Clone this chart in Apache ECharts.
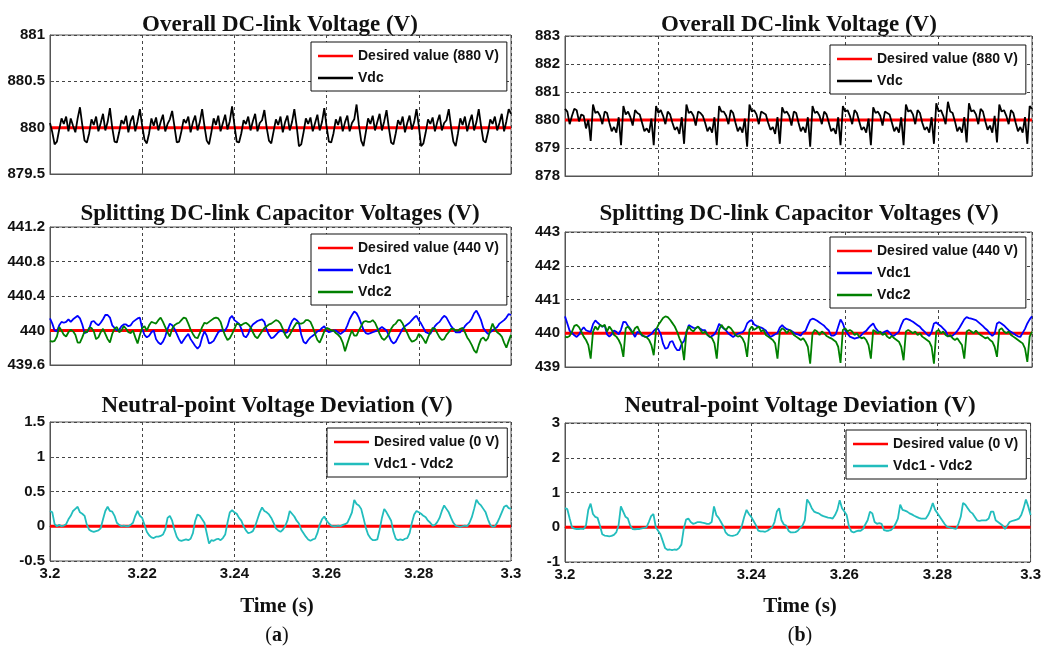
<!DOCTYPE html>
<html><head><meta charset="utf-8">
<script src="https://cdn.jsdelivr.net/npm/echarts/dist/echarts.min.js"></script>
<style>html,body{margin:0;padding:0;background:#fff}#c{width:1044px;height:650px}</style>
</head><body><div id="c"></div>
<script>
// ---------- data ----------
const T_START = 3.2, T_END = 3.3, T_STEP = 0.0005;
const xTickInterval = 0.02;

const desiredVdc = 880, desiredVdcHalf = 440, desiredDev = 0;

// (a) overall DC-link voltage
const vdcA = [880.05, 879.95, 879.82, 879.85, 879.98, 880.10, 880.04, 880.12, 879.96, 880.10, 880.02, 879.95, 880.10,
 880.22, 880.03, 879.86, 879.84, 879.94, 880.09, 880.03, 880.12, 879.96, 880.05, 880.15, 879.97, 880.06,
 880.21, 880.00, 879.85, 879.84, 879.95, 880.08, 880.04, 880.13, 879.95, 880.07, 880.13, 879.96, 880.07,
 880.20, 880.02, 879.87, 879.83, 879.94, 880.10, 880.02, 880.11, 879.97, 880.06, 880.14, 879.96, 880.04, 880.09,
 880.18, 880.01, 879.84, 879.85, 879.96, 880.09, 880.05, 880.12, 879.95, 880.06, 880.13, 879.97, 880.06,
 880.20, 880.02, 879.86, 879.82, 879.95, 880.10, 880.03, 880.13, 879.96, 880.05, 880.14, 879.98, 880.07,
 880.23, 880.03, 879.85, 879.84, 879.94, 880.08, 880.04, 880.12, 879.97, 880.07, 880.15, 879.96, 880.05, 880.08,
 880.19, 880.00, 879.86, 879.83, 879.96, 880.09, 880.03, 880.12, 879.95, 880.06, 880.13, 879.97, 880.06,
 880.20, 880.02, 879.80, 879.82, 879.95, 880.10, 880.04, 880.11, 879.96, 880.05, 880.14, 879.97, 880.06,
 880.21, 880.01, 879.85, 879.84, 879.94, 880.09, 880.03, 880.12, 879.96, 880.06, 880.13, 879.96, 880.05, 880.09,
 880.25, 880.03, 879.86, 879.80, 879.95, 880.10, 880.04, 880.13, 879.97, 880.06, 880.15, 879.97, 880.07,
 880.19, 880.00, 879.84, 879.82, 879.94, 880.08, 880.03, 880.12, 879.95, 880.05, 880.13, 879.98, 880.06,
 880.20, 880.02, 879.80, 879.83, 879.95, 880.09, 880.04, 880.11, 879.96, 880.06, 880.14, 879.97, 880.05, 880.08,
 880.20, 880.01, 879.85, 879.80, 879.94, 880.10, 880.03, 880.12, 879.96, 880.06, 880.14, 879.97, 880.06,
 880.20, 880.02, 879.86, 879.84, 879.95, 880.09, 880.04, 880.12, 879.97, 880.05, 880.15, 879.96, 880.07,
 880.20, 880.15];

// (b) overall DC-link voltage
const vdcB = [880.40, 880.30, 879.85, 880.15, 880.40, 880.35, 879.95, 880.20, 880.15, 879.70, 880.00,
 879.25, 880.55, 880.25, 880.30, 880.15, 879.85, 880.30, 880.25, 879.90, 879.60, 879.75, 879.55, 880.10,
 879.10, 880.50, 880.20, 880.30, 880.10, 879.80, 880.35, 880.25, 880.20, 879.90, 879.60, 879.70, 879.55, 880.05,
 879.10, 880.50, 880.25, 880.35, 880.15, 879.85, 880.30, 880.20, 879.90, 879.65, 879.75, 879.50, 880.10,
 879.15, 880.55, 880.25, 880.30, 880.15, 879.80, 880.30, 880.25, 880.15, 879.90, 879.60, 879.75, 879.55, 880.10,
 879.10, 880.50, 880.30, 880.30, 880.15, 879.85, 880.35, 880.25, 879.90, 879.60, 879.75, 879.55, 880.05,
 879.05, 880.55, 880.30, 880.35, 880.20, 879.85, 880.30, 880.25, 880.20, 879.90, 879.65, 879.75, 879.50, 880.10,
 879.15, 880.45, 880.25, 880.30, 880.15, 879.80, 880.30, 880.25, 879.90, 879.60, 879.75, 879.55, 880.10,
 879.05, 880.50, 880.25, 880.30, 880.15, 879.85, 880.30, 880.20, 879.90, 879.60, 879.70, 879.50, 880.10,
 879.10, 880.50, 880.30, 880.35, 880.15, 879.85, 880.35, 880.25, 879.95, 879.65, 879.75, 879.55, 880.05,
 879.10, 880.45, 880.25, 880.30, 880.15, 879.80, 880.30, 880.25, 880.20, 879.90, 879.60, 879.75, 879.55, 880.10,
 879.10, 880.55, 880.30, 880.35, 880.20, 879.85, 880.35, 880.25, 879.90, 879.65, 879.75, 879.55, 880.10,
 879.15, 880.60, 880.30, 880.35, 880.15, 879.85, 880.65, 880.30, 880.25, 879.95, 879.60, 879.75, 879.55, 880.10,
 879.20, 880.60, 880.30, 880.35, 880.20, 879.85, 880.40, 880.30, 879.95, 879.65, 879.80, 879.55, 880.15,
 879.20, 880.55, 880.30, 880.35, 880.15, 879.85, 880.35, 880.25, 879.90, 879.60, 879.75, 879.55, 880.10,
 879.15, 880.50, 880.40];

// (a) capacitor voltages
const vdc1A = [440.14, 440.08, 440.00, 439.99, 440.06, 440.10, 440.09, 440.10, 440.13, 440.10,
 440.13, 440.15, 440.17, 440.14, 440.07, 439.97, 439.98, 440.02, 440.10, 440.11,
 440.08, 440.06, 440.09, 440.13, 440.18, 440.18, 440.15, 440.06, 440.03, 440.00,
 440.01, 440.05, 440.07, 440.07, 440.05, 440.06, 440.10, 440.12, 440.14, 440.15,
 440.02, 439.95, 439.92, 439.94, 439.98, 440.00, 439.90, 439.86, 439.84, 439.87,
 439.93, 440.02, 440.08, 440.06, 440.02, 439.96, 439.90, 439.85, 439.89, 439.93,
 439.96, 439.90, 439.86, 439.82, 439.79, 439.82, 439.92, 439.99, 439.94, 439.85,
 439.86, 439.88, 439.93, 439.98, 440.00, 440.00, 440.00, 440.05, 440.14, 440.17,
 440.12, 440.10, 440.08, 440.02, 439.94, 439.92, 439.96, 440.03, 440.07, 440.09,
 440.11, 440.12, 440.13, 440.10, 440.01, 439.95, 439.91, 439.92, 439.95, 439.98,
 440.00, 439.99, 439.97, 439.98, 440.05, 440.11, 440.14, 440.12, 440.09, 439.95,
 439.87, 439.85, 439.89, 439.92, 439.94, 439.96, 439.99, 440.00, 440.03, 440.05,
 440.00, 439.98, 439.99, 440.00, 440.00, 439.98, 439.96, 439.98, 440.00, 440.06,
 440.13, 440.18, 440.22, 440.20, 440.15, 440.08, 440.01, 439.97, 439.96, 439.97,
 439.98, 439.99, 440.00, 440.02, 440.04, 440.02, 440.00, 439.94, 439.88, 439.85,
 439.87, 439.92, 439.97, 440.02, 440.05, 440.07, 440.09, 440.12, 440.15, 440.17,
 440.12, 440.08, 440.03, 439.98, 439.97, 439.96, 440.01, 440.05, 440.08, 440.10,
 440.14, 440.17, 440.15, 440.10, 440.05, 440.02, 439.98, 439.98, 439.98, 440.01,
 440.05, 440.08, 440.10, 440.14, 440.20, 440.23, 440.18, 440.12, 440.03, 439.99,
 439.96, 439.98, 440.00, 440.02, 440.04, 440.08, 440.10, 440.12, 440.15, 440.19,
 440.18];
const vdc2A = [439.88, 439.87, 439.88, 439.93, 440.04, 440.00, 439.95, 439.93, 439.98, 440.01,
 439.99, 439.95, 439.86, 439.86, 439.92, 439.99, 439.98, 440.03, 440.03, 439.99,
 439.90, 439.92, 439.98, 440.02, 439.96, 439.90, 439.86, 439.96, 440.02, 440.04,
 439.98, 440.00, 440.05, 440.02, 439.98, 439.97, 440.00, 439.92, 439.85, 439.95,
 440.03, 440.05, 440.00, 440.06, 440.10, 440.09, 440.08, 440.12, 440.15, 440.10,
 440.04, 439.98, 439.93, 440.02, 440.06, 440.08, 440.09, 440.12, 440.15, 440.14,
 440.08, 440.01, 439.96, 439.92, 439.91, 439.97, 440.04, 440.09, 440.08, 440.10,
 440.12, 440.14, 440.15, 440.14, 440.10, 440.01, 439.94, 439.89, 439.91, 439.96,
 440.02, 440.08, 440.07, 440.06, 440.08, 440.09, 440.07, 440.04, 439.98, 439.93,
 439.91, 439.95, 439.99, 440.03, 440.05, 440.07, 440.08, 440.10, 440.12, 440.11,
 440.08, 440.02, 439.95, 439.91, 439.95, 440.00, 440.05, 440.09, 440.08, 440.08,
 440.09, 440.12, 440.12, 440.10, 440.04, 439.96, 439.89, 439.86, 439.92, 439.99,
 440.03, 440.02, 440.00, 440.00, 439.97, 439.95, 439.92, 439.86, 439.76, 439.85,
 439.93, 440.00, 439.94, 439.94, 440.00, 440.05, 440.10, 440.11, 440.10, 440.10,
 440.12, 440.09, 440.03, 439.96, 439.91, 439.89, 439.92, 439.96, 440.02, 440.06,
 440.08, 440.12, 440.12, 440.08, 440.02, 439.97, 439.91, 439.87, 439.88, 439.90,
 439.96, 439.94, 439.90, 439.85, 439.92, 439.98, 440.03, 440.02, 439.97, 439.92,
 439.89, 439.90, 439.95, 439.98, 440.02, 440.02, 440.00, 440.00, 440.02, 440.03,
 439.98, 439.92, 439.88, 439.83, 439.77, 439.74, 439.83, 439.90, 439.92, 439.88,
 439.91, 440.00, 440.08, 440.02, 439.98, 439.96, 439.93, 439.86, 439.80, 439.88,
 439.95];

// (b) capacitor voltages
const vdc1B = [440.50, 440.29, 440.07, 440.01, 439.94, 439.89, 439.96, 440.09, 440.18, 440.09,
 440.06, 440.04, 440.27, 440.38, 440.31, 440.25, 440.19, 440.23, 439.97, 439.90,
 439.97, 440.08, 440.04, 439.97, 440.11, 440.34, 440.33, 440.21, 440.13, 440.01,
 439.89, 440.04, 440.01, 439.93, 439.91, 439.89, 439.93, 439.98, 440.07, 440.14,
 440.11, 439.97, 439.69, 439.54, 439.57, 439.74, 439.77, 439.61, 439.50, 439.50,
 439.69, 439.77, 440.01, 440.24, 440.20, 440.16, 440.15, 440.19, 440.13, 440.09,
 440.09, 439.95, 439.89, 439.92, 439.97, 440.09, 440.28, 440.20, 440.14, 440.08,
 439.99, 439.94, 439.89, 439.94, 439.99, 440.01, 440.03, 440.11, 440.29, 440.36,
 440.39, 440.26, 440.22, 440.19, 440.17, 440.13, 440.08, 439.97, 439.89, 439.93,
 439.97, 440.01, 440.17, 440.24, 440.17, 440.12, 440.10, 440.07, 440.02, 439.98,
 439.96, 439.93, 440.03, 440.07, 440.24, 440.39, 440.43, 440.41, 440.37, 440.32,
 440.27, 440.22, 440.14, 440.08, 439.93, 439.93, 439.97, 440.19, 440.41, 440.29,
 440.09, 439.99, 439.90, 439.87, 439.84, 439.86, 439.88, 439.95, 440.03, 440.07,
 440.16, 440.23, 440.29, 440.15, 440.07, 440.02, 440.01, 440.05, 440.08, 440.02,
 439.93, 439.93, 439.99, 440.05, 440.24, 440.39, 440.43, 440.41, 440.38, 440.34,
 440.29, 440.24, 440.19, 440.11, 440.05, 439.97, 439.92, 440.04, 440.29, 440.32,
 440.26, 440.21, 440.14, 440.07, 439.92, 439.91, 439.93, 439.99, 440.07, 440.17,
 440.29, 440.41, 440.48, 440.45, 440.43, 440.41, 440.39, 440.33, 440.27, 440.21,
 440.14, 440.08, 439.99, 439.92, 439.99, 440.29, 440.33, 440.28, 440.23, 440.16,
 440.09, 440.04, 440.00, 439.95, 439.91, 439.89, 440.01, 440.13, 440.29, 440.41,
 440.50];
const vdc2B = [439.90, 439.88, 439.92, 440.05, 440.22, 440.25, 440.18, 440.05, 439.90, 439.80, 439.65,
 439.25, 440.05, 440.20, 440.10, 440.25, 440.20, 440.25, 440.05, 440.20, 440.10, 439.95, 439.90, 439.80, 439.65,
 439.30, 440.15, 440.20, 440.10, 440.00, 440.15, 440.20, 440.05, 439.95, 439.90, 439.88, 439.80, 439.65,
 439.35, 440.10, 440.25, 440.35, 440.45, 440.50, 440.48, 440.40, 440.30, 440.20, 440.05, 439.85, 439.70,
 439.20, 440.05, 440.20, 440.10, 440.05, 440.15, 440.20, 440.10, 440.00, 440.05, 439.95, 439.90, 439.85, 439.70,
 439.25, 440.10, 440.25, 440.15, 440.10, 440.20, 440.15, 440.05, 439.95, 439.90, 439.92, 439.85, 439.70,
 439.30, 440.10, 440.20, 440.10, 440.15, 440.20, 440.05, 440.10, 439.95, 439.90, 439.85, 439.80, 439.70,
 439.25, 440.05, 440.15, 440.10, 440.00, 440.10, 440.05, 439.95, 439.90, 439.85, 439.80, 439.85, 439.75, 439.60,
 439.10, 440.00, 440.10, 440.05, 439.95, 440.05, 440.00, 439.92, 439.88, 439.85, 439.80, 439.75, 439.60,
 439.12, 440.10, 440.15, 440.05, 440.10, 440.05, 439.95, 440.00, 439.90, 439.85, 439.88, 439.80, 439.65,
 439.25, 440.10, 440.05, 440.00, 440.05, 439.95, 440.00, 439.90, 439.85, 439.92, 439.85, 439.80, 439.75, 439.60,
 439.20, 440.05, 440.10, 440.05, 440.00, 440.05, 439.95, 440.00, 439.90, 439.85, 439.80, 439.75, 439.60,
 439.10, 440.05, 440.10, 440.00, 440.05, 439.95, 439.90, 439.95, 439.85, 439.80, 439.85, 439.75, 439.65,
 439.25, 440.05, 440.10, 440.05, 440.00, 440.08, 440.00, 439.95, 439.90, 439.85, 439.88, 439.80, 439.75, 439.60,
 439.30, 440.10, 440.15, 440.05, 440.00, 440.05, 439.95, 439.90, 439.85, 439.80, 439.75, 439.70, 439.55,
 439.15, 439.90, 440.05];

// (a) neutral-point deviation
const devA = [0.22, 0.20, 0.03, 0.00, 0.02, 0.00, 0.01, 0.03, 0.10, 0.15,
 0.22, 0.25, 0.28, 0.20, 0.18, 0.15, 0.02, -0.05, -0.07, -0.08,
 -0.07, -0.06, -0.03, 0.10, 0.22, 0.28, 0.22, 0.21, 0.15, 0.05,
 0.02, 0.00, 0.01, 0.00, 0.00, 0.02, 0.05, 0.15, 0.22, 0.15,
 0.12, 0.02, -0.08, -0.13, -0.16, -0.17, -0.15, -0.15, -0.14, -0.12,
 -0.05, 0.12, 0.15, 0.08, -0.05, -0.15, -0.20, -0.21, -0.20, -0.19,
 -0.20, -0.18, -0.10, 0.08, 0.17, 0.15, 0.10, 0.05, -0.10, -0.25,
 -0.20, -0.21, -0.19, -0.18, -0.20, -0.17, -0.12, 0.05, 0.20, 0.23,
 0.20, 0.18, 0.12, 0.08, 0.00, -0.06, -0.10, -0.09, -0.07, 0.00,
 0.10, 0.20, 0.27, 0.22, 0.20, 0.17, 0.12, 0.05, -0.03, -0.06,
 -0.08, -0.05, 0.00, 0.08, 0.22, 0.18, 0.14, 0.08, 0.04, -0.05,
 -0.10, -0.15, -0.19, -0.21, -0.19, -0.18, -0.10, 0.02, 0.10, 0.14,
 0.08, 0.04, 0.01, 0.00, 0.00, 0.01, 0.00, 0.02, 0.03, 0.05,
 0.12, 0.20, 0.38, 0.32, 0.30, 0.25, 0.12, -0.02, -0.12, -0.17,
 -0.20, -0.20, -0.19, -0.05, 0.12, 0.25, 0.20, 0.14, 0.08, -0.08,
 -0.18, -0.20, -0.19, -0.20, -0.18, -0.17, -0.10, 0.05, 0.17, 0.22,
 0.20, 0.18, 0.15, 0.13, 0.08, 0.05, 0.01, 0.02, 0.06, 0.12,
 0.22, 0.30, 0.25, 0.20, 0.12, 0.05, 0.01, 0.00, -0.01, 0.00,
 0.01, 0.00, 0.05, 0.13, 0.25, 0.38, 0.33, 0.30, 0.25, 0.20,
 0.10, 0.02, -0.01, 0.00, 0.05, 0.12, 0.20, 0.28, 0.30, 0.26,
 0.25];

// (b) neutral-point deviation
const devB = [0.55, 0.52, 0.25, 0.00, -0.04, -0.05, -0.05, -0.04, -0.05, 0.05,
 0.50, 0.68, 0.38, 0.30, 0.27, 0.05, -0.20, -0.24, -0.25, -0.26,
 -0.25, -0.22, -0.15, 0.05, 0.60, 0.45, 0.30, 0.25, 0.05, -0.05,
 -0.06, -0.05, -0.05, -0.03, -0.02, 0.00, 0.15, 0.32, 0.38, 0.00,
 -0.10, -0.20, -0.40, -0.60, -0.65, -0.64, -0.66, -0.64, -0.65, -0.60,
 -0.50, -0.05, 0.22, 0.25, 0.15, 0.10, 0.12, 0.15, 0.15, 0.13,
 0.12, 0.10, 0.10, 0.15, 0.60, 0.35, 0.27, 0.15, 0.03, -0.15,
 -0.22, -0.24, -0.25, -0.23, -0.20, -0.10, 0.05, 0.30, 0.50, 0.38,
 0.30, 0.18, 0.06, -0.10, -0.12, -0.12, -0.13, -0.10, -0.05, 0.00,
 0.15, 0.45, 0.55, 0.20, 0.08, 0.05, -0.10, -0.15, -0.15, -0.14,
 -0.10, -0.02, 0.05, 0.20, 0.80, 0.70, 0.55, 0.45, 0.42, 0.40,
 0.35, 0.32, 0.30, 0.28, 0.27, 0.25, 0.35, 0.50, 0.78, 0.55,
 0.45, 0.35, 0.02, -0.12, -0.15, -0.12, -0.10, -0.10, -0.05, 0.08,
 0.20, 0.45, 0.40, 0.15, 0.10, 0.12, 0.10, -0.08, -0.10, -0.10,
 -0.08, -0.02, 0.10, 0.25, 0.65, 0.50, 0.48, 0.45, 0.40, 0.37,
 0.33, 0.30, 0.27, 0.25, 0.25, 0.25, 0.35, 0.50, 0.70, 0.50,
 0.40, 0.30, 0.20, 0.10, 0.02, 0.00, -0.02, -0.03, -0.05, 0.10,
 0.30, 0.70, 0.65, 0.55, 0.45, 0.40, 0.30, 0.20, 0.18, 0.20,
 0.20, 0.20, 0.25, 0.45, 0.45, 0.20, 0.15, 0.10, 0.05, -0.05,
 0.05, 0.15, 0.18, 0.20, 0.22, 0.25, 0.35, 0.55, 0.80, 0.60,
 0.35];

// ---------- layout / styling ----------
const FONT_SANS = 'Liberation Sans, Arial, sans-serif';
const FONT_SERIF = 'Liberation Serif, Times New Roman, serif';

const panels = [
  { grid:{left:50,top:35,width:461,height:139}, y:[879.5,881,0.5], title:'Overall DC-link Voltage (V)', tx:280, ty:25,
    desired:desiredVdc, desiredName:'Desired value (880 V)', lines:[['Vdc',vdcA,'#000000']], leg:{left:311,top:42}, xl:false },
  { grid:{left:565,top:36,width:467,height:140}, y:[878,883,1], title:'Overall DC-link Voltage (V)', tx:799, ty:25,
    desired:desiredVdc, desiredName:'Desired value (880 V)', lines:[['Vdc',vdcB,'#000000']], leg:{left:830,top:45}, xl:false },
  { grid:{left:50,top:227,width:461,height:138}, y:[439.6,441.2,0.4], title:'Splitting DC-link Capacitor Voltages (V)', tx:280, ty:214,
    desired:desiredVdcHalf, desiredName:'Desired value (440 V)', lines:[['Vdc1',vdc1A,'#0000ff'],['Vdc2',vdc2A,'#008000']], leg:{left:311,top:234}, xl:false },
  { grid:{left:565,top:232,width:467,height:135}, y:[439,443,1], title:'Splitting DC-link Capacitor Voltages (V)', tx:799, ty:214,
    desired:desiredVdcHalf, desiredName:'Desired value (440 V)', lines:[['Vdc1',vdc1B,'#0000ff'],['Vdc2',vdc2B,'#008000']], leg:{left:830,top:237}, xl:false },
  { grid:{left:50,top:422,width:461,height:139}, y:[-0.5,1.5,0.5], title:'Neutral-point Voltage Deviation (V)', tx:277, ty:406,
    desired:desiredDev, desiredName:'Desired value (0 V)', lines:[['Vdc1 - Vdc2',devA,'#22bdbd']], leg:{left:327,top:428}, xl:true },
  { grid:{left:565,top:423,width:467,height:139}, y:[-1,3,1], title:'Neutral-point Voltage Deviation (V)', tx:800, ty:406,
    desired:desiredDev, desiredName:'Desired value (0 V)', lines:[['Vdc1 - Vdc2',devB,'#22bdbd']], leg:{left:846,top:430}, xl:true }
];

function toPairs(arr){ return arr.map((v,i)=>[+(T_START + i*T_STEP).toFixed(4), v]); }

const grids=[], xAxes=[], yAxes=[], series=[], legends=[], graphics=[];
panels.forEach((p,k)=>{
  grids.push(Object.assign({show:true, borderColor:'#555', borderWidth:1, backgroundColor:'#fff'}, p.grid));
  const splitStyle = {show:true, lineStyle:{color:'#444', type:[3,3], width:1}};
  xAxes.push({ type:'value', gridIndex:k, min:T_START, max:T_END, interval:xTickInterval,
    axisLine:{show:true, lineStyle:{color:'#555'}}, axisTick:{show:true, inside:true, length:4, lineStyle:{color:'#555'}},
    splitLine:splitStyle,
    axisLabel:{show:p.xl, color:'#111', fontFamily:FONT_SANS, fontWeight:'bold', fontSize:15, margin:5, showMinLabel:true, showMaxLabel:true}});
  yAxes.push({ type:'value', gridIndex:k, min:p.y[0], max:p.y[1], interval:p.y[2],
    axisLine:{show:true, lineStyle:{color:'#555'}}, axisTick:{show:true, inside:true, length:4, lineStyle:{color:'#555'}},
    splitLine:splitStyle,
    axisLabel:{color:'#111', fontFamily:FONT_SANS, fontWeight:'bold', fontSize:15, margin:5}});
  series.push({ name:p.desiredName, type:'line', xAxisIndex:k, yAxisIndex:k, symbol:'none', animation:false,
    data:[[T_START,p.desired],[T_END,p.desired]], lineStyle:{color:'#ff0000', width:3}, itemStyle:{color:'#ff0000'}, z:2 });
  p.lines.forEach(l=>{
    series.push({ name:l[0], type:'line', xAxisIndex:k, yAxisIndex:k, symbol:'none', animation:false,
      data:toPairs(l[1]), lineStyle:{color:l[2], width:1.8}, itemStyle:{color:l[2]}, z:3 });
  });
  legends.push({ left:p.leg.left, top:p.leg.top, orient:'vertical', data:[p.desiredName].concat(p.lines.map(l=>l[0])),
    icon:'rect', itemWidth:35, itemHeight:2.5, itemGap:8, padding:[7,8,6,7],
    backgroundColor:'#fff', borderColor:'#111', borderWidth:1, selectedMode:false,
    textStyle:{color:'#111', fontFamily:FONT_SANS, fontWeight:'bold', fontSize:14}});
  graphics.push({ type:'text', x:p.tx, y:p.ty, z:100,
    style:{text:p.title, fill:'#111', font:'bold 23px '+FONT_SERIF, textAlign:'center', textVerticalAlign:'middle'} });
});
graphics.push({ type:'text', x:277, y:607, style:{text:'Time (s)', fill:'#111', font:'bold 21px '+FONT_SERIF, textAlign:'center', textVerticalAlign:'middle'} });
graphics.push({ type:'text', x:800, y:607, style:{text:'Time (s)', fill:'#111', font:'bold 21px '+FONT_SERIF, textAlign:'center', textVerticalAlign:'middle'} });
graphics.push({ type:'text', x:277, y:636, style:{text:'{n|(}{b|a}{n|)}', textAlign:'center', textVerticalAlign:'middle',
  rich:{n:{fontFamily:FONT_SERIF, fontSize:20, fill:'#111'}, b:{fontFamily:FONT_SERIF, fontSize:20, fontWeight:'bold', fill:'#111'}}} });
graphics.push({ type:'text', x:800, y:636, style:{text:'{n|(}{b|b}{n|)}', textAlign:'center', textVerticalAlign:'middle',
  rich:{n:{fontFamily:FONT_SERIF, fontSize:20, fill:'#111'}, b:{fontFamily:FONT_SERIF, fontSize:20, fontWeight:'bold', fill:'#111'}}} });

const chart = echarts.init(document.getElementById('c'), null, {renderer:'canvas'});
chart.setOption({ animation:false, backgroundColor:'#fff', grid:grids, xAxis:xAxes, yAxis:yAxes, series:series, legend:legends, graphic:graphics });
</script></body></html>
